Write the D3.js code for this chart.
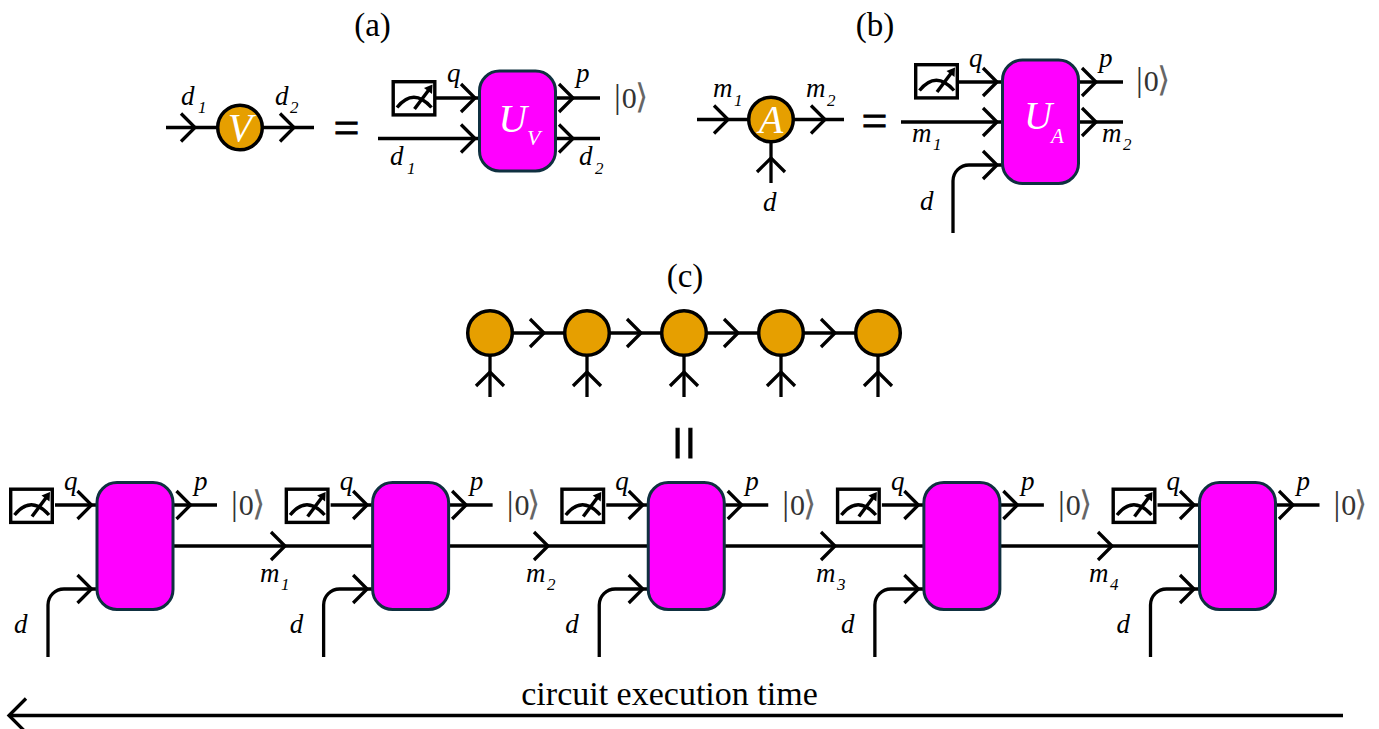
<!DOCTYPE html>
<html>
<head>
<meta charset="utf-8">
<script src="https://cdn.jsdelivr.net/npm/d3@7"></script>
<style>
  body { margin: 0; background: #fff; }
  text { font-family: "Liberation Serif", serif; fill: #000; }
</style>
</head>
<body>
<svg id="fig"></svg>
<script>
const width = 1379, height = 729

// diagram content
const panelTitles = ['(a)', '(b)', '(c)']
const chainSites = [1, 2, 3, 4, 5]
const chainBonds = [1, 2, 3, 4]
const circuitSites = [1, 2, 3, 4, 5]
const circuitBonds = [1, 2, 3, 4]
const bondArrowTips = [285, 548, 835, 1112]
const bondLabelLeft = [260, 526, 816, 1089]
const footerLabel = 'circuit execution time'

const orange = '#e69f00', magenta = '#ff00ff', blockEdge = '#0f3040'
const lineW = 3.3

const svg = d3.select('#fig').attr('width', width).attr('height', height)
  .style('display', 'block')

const chainX = d3.scalePoint().domain(chainSites).range([490, 878])
const circuitX = d3.scalePoint().domain(circuitSites).range([135, 1237.5])

function wire(x1, y1, x2, y2, w) {
  svg.append('line')
    .attr('x1', x1).attr('y1', y1).attr('x2', x2).attr('y2', y2)
    .attr('stroke', '#000').attr('stroke-width', w || lineW)
}

// open arrow head, dir is the way it points
function chevron(x, y, dir, size) {
  const s = size || 14
  const v = { right: [1, 0], left: [-1, 0], up: [0, -1] }[dir]
  const pts = [[-v[0] * s + v[1] * s, -v[1] * s + v[0] * s], [0, 0], [-v[0] * s - v[1] * s, -v[1] * s - v[0] * s]]
  svg.append('path')
    .attr('d', d3.line()(pts.map(p => [x + p[0], y + p[1]])))
    .attr('fill', 'none').attr('stroke', '#000').attr('stroke-width', lineW)
}

function whiteLetter(x, y, size, s, anchor) {
  svg.append('text').attr('x', x).attr('y', y)
    .attr('text-anchor', anchor || 'start').attr('font-size', size)
    .attr('font-style', 'italic').style('fill', '#fff').text(s)
}

function node(cx, cy, letter) {
  svg.append('circle')
    .attr('cx', cx).attr('cy', cy).attr('r', 22.3)
    .attr('fill', orange).attr('stroke', '#000').attr('stroke-width', 3.5)
  if (letter) whiteLetter(cx, cy + 13, 40, letter, 'middle')
}

function block(x0, x1, y0, y1) {
  svg.append('rect')
    .attr('x', x0 + 1.5).attr('y', y0 + 1.5)
    .attr('width', x1 - x0 - 3).attr('height', y1 - y0 - 3)
    .attr('rx', 20).attr('ry', 20)
    .attr('fill', magenta).attr('stroke', blockEdge).attr('stroke-width', 3)
}

function meter(x, y) {
  const g = svg.append('g').attr('transform', `translate(${x},${y})`)
  g.append('rect').attr('x', 1.7).attr('y', 1.7).attr('width', 41.6).attr('height', 33.2)
    .attr('fill', '#fff').attr('stroke', '#000').attr('stroke-width', 3.4)
  g.append('path').attr('d', 'M5.5,27.5 Q22,7 40,27.5')
    .attr('fill', 'none').attr('stroke', '#000').attr('stroke-width', 3.4)
  g.append('path').attr('d', 'M23,29 L38,9')
    .attr('fill', 'none').attr('stroke', '#000').attr('stroke-width', 3.4)
  g.append('path').attr('d', 'M41,4.5 L40.5,14 L32.5,8 Z').attr('fill', '#000')
}

// italic letter with an italic subscript
function label(x, y, main, sub, subDx, subDy) {
  svg.append('text').attr('x', x).attr('y', y)
    .attr('font-size', 27).attr('font-style', 'italic').text(main)
  if (sub) {
    svg.append('text').attr('x', x + subDx).attr('y', y + subDy)
      .attr('font-size', 17).attr('font-style', 'italic').text(sub)
  }
}

function ket(x, y) {
  const t = svg.append('text').attr('x', x).attr('y', y).style('fill', '#333')
  t.append('tspan').attr('font-size', 34).text('|')
  t.append('tspan').attr('font-size', 30).attr('dx', 1).text('0')
  t.append('tspan').attr('font-size', 34).attr('dx', -2).style('fill', '#666').text('\u27E9')
}

function equalSign(x, y) {
  svg.append('text').attr('x', x).attr('y', y)
    .attr('text-anchor', 'middle').attr('font-size', 46)
    .attr('stroke', '#000').attr('stroke-width', 0.8).text('=')
}

function title(x, y, s) {
  svg.append('text').attr('x', x).attr('y', y)
    .attr('text-anchor', 'middle').attr('font-size', 33).text(s)
}

// wire going up from the bottom, round corner, then right into a block
function bendWire(x, yBottom, yTop, xEnd) {
  const p = d3.path()
  p.moveTo(x, yBottom)
  p.arcTo(x, yTop, xEnd, yTop, 16)
  p.lineTo(xEnd, yTop)
  svg.append('path').attr('d', p.toString())
    .attr('fill', 'none').attr('stroke', '#000').attr('stroke-width', lineW)
}

// ---- panel (a)
title(372.5, 36, panelTitles[0])
wire(166, 127.5, 314, 127.5)
chevron(195, 127.5, 'right')
chevron(294, 127.5, 'right')
node(240, 127.5, 'V')
label(181, 105, 'd', '1', 17, 8)
label(275, 105, 'd', '2', 15, 8)
equalSign(346.5, 143)
wire(436, 98, 480, 98)
chevron(475, 98, 'right')
wire(378, 138.5, 480, 138.5)
chevron(475, 138.5, 'right')
wire(555, 98, 600, 98)
chevron(573, 98, 'right')
wire(555, 138.5, 600, 138.5)
chevron(573, 138.5, 'right')
meter(391.5, 80)
block(478, 557, 69.5, 172.5)
whiteLetter(498.5, 132, 39.5, 'U')
whiteLetter(527, 145, 22, 'V')
label(447, 82, 'q')
label(576, 82, 'p')
ket(614, 108)
label(390, 165, 'd', '1', 17, 9)
label(579, 165, 'd', '2', 16, 9)

// ---- panel (b)
title(875, 36, panelTitles[1])
wire(697, 119.5, 844, 119.5)
chevron(728, 119.5, 'right')
chevron(825, 119.5, 'right')
wire(771, 135, 771, 183)
chevron(771, 158, 'up')
node(771, 119.5, 'A')
label(713, 97, 'm', '1', 21, 9)
label(806, 97, 'm', '2', 21, 9)
label(763, 211, 'd')
equalSign(874.5, 136)
wire(958, 82, 1003, 82)
chevron(997, 82, 'right')
wire(901, 122, 1003, 122)
chevron(997, 122, 'right')
bendWire(953, 233, 165, 1003)
chevron(997, 165, 'right')
wire(1078, 82, 1123, 82)
chevron(1096, 82, 'right')
wire(1078, 122, 1123, 122)
chevron(1096, 122, 'right')
meter(914, 63)
block(1001, 1080, 58.5, 185)
whiteLetter(1024, 129, 39, 'U')
whiteLetter(1051, 143, 21, 'A')
label(969, 67, 'q')
label(1099, 67, 'p')
ket(1136, 91)
label(912, 142, 'm', '1', 21, 8)
label(1102, 142, 'm', '2', 21, 8)
label(920, 210, 'd')

// ---- panel (c), chain of tensors
title(685, 287, panelTitles[2])
wire(chainX(1), 333, chainX(5), 333)
chainBonds.forEach(b => chevron(chainX(b) + 54, 333, 'right'))
chainSites.forEach(s => {
  wire(chainX(s), 350, chainX(s), 397)
  chevron(chainX(s), 372, 'up')
  node(chainX(s), 333)
})

// vertical equals between chain and circuit
svg.append('text')
  .attr('transform', 'translate(663,443) rotate(90)')
  .attr('text-anchor', 'middle').attr('font-size', 64)
  .attr('stroke', '#000').attr('stroke-width', 1).text('=')

// ---- panel (c), circuit
const halfW = 39.5
circuitBonds.forEach((b, i) => {
  wire(circuitX(b) + halfW - 2, 546, circuitX(b + 1) - halfW + 2, 546)
  chevron(bondArrowTips[i], 546, 'right')
  label(bondLabelLeft[i], 582, 'm', String(b), 21, 8)
})
circuitSites.forEach(s => {
  const cx = circuitX(s)
  wire(cx - 80, 505, cx - halfW + 2, 505)
  chevron(cx - 43.5, 505, 'right')
  wire(cx + halfW - 2, 505, cx + 82, 505)
  chevron(cx + 55.5, 505, 'right')
  bendWire(cx - 87, 657, 589, cx - halfW + 2)
  chevron(cx - 43.5, 589, 'right')
  meter(cx - 126, 487.5)
  block(cx - halfW, cx + halfW, 481, 611)
  label(cx - 71, 490, 'q')
  label(cx + 59, 490, 'p')
  ket(cx + 96, 515)
  label(cx - 121, 633, 'd')
})

// ---- time arrow
wire(9, 715.5, 1343, 715.5, 3.5)
chevron(9, 715.5, 'left', 17)
svg.append('text').attr('x', 669.5).attr('y', 705)
  .attr('text-anchor', 'middle').attr('font-size', 34).text(footerLabel)
</script>
</body>
</html>
